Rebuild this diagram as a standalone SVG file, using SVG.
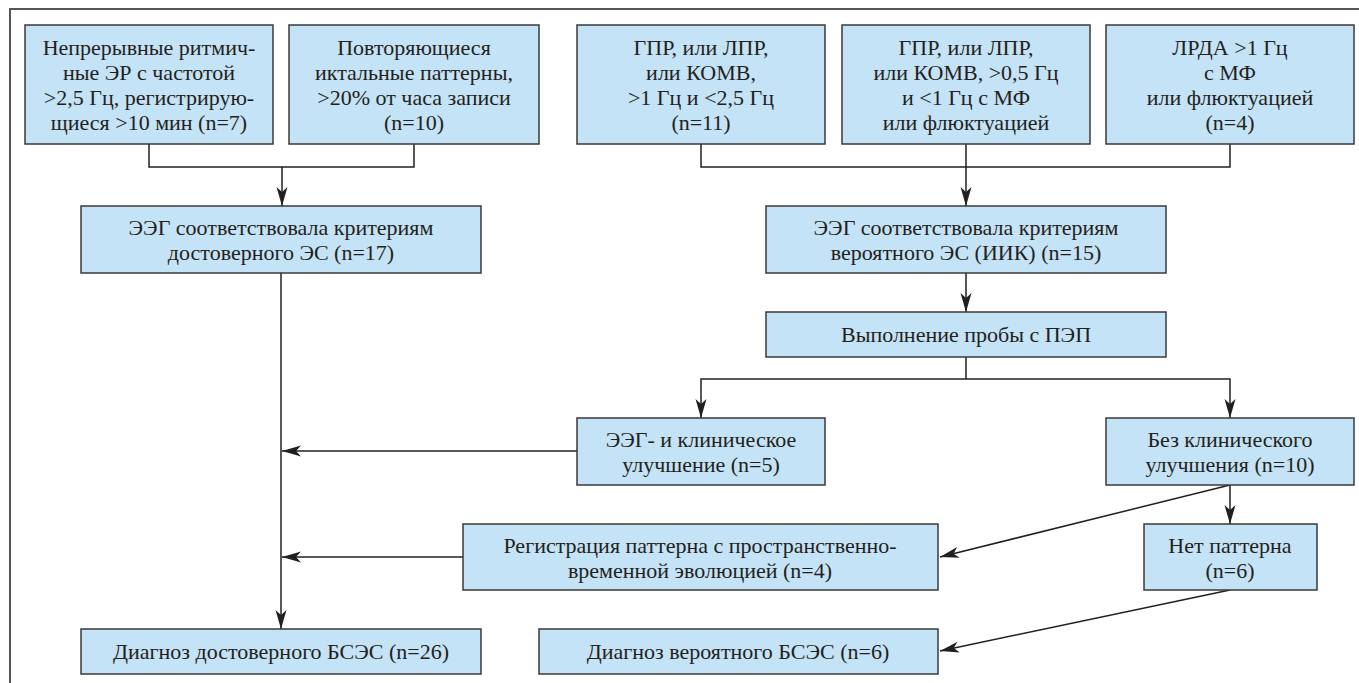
<svg xmlns="http://www.w3.org/2000/svg" width="1359" height="683" viewBox="0 0 1359 683">
<style>
.box{fill:#c5e3f6;stroke:#3a3a3a;stroke-width:1.5}
.c{fill:none;stroke:#231f20;stroke-width:1.5}
</style>
<defs>
<marker id="ah" markerUnits="userSpaceOnUse" markerWidth="20" markerHeight="12" refX="19" refY="6" orient="auto">
<path d="M0,0.5 L19,6 L0,11.5 L5,6 Z" fill="#231f20"/>
</marker>
</defs>
<rect x="10" y="9" width="1370" height="700" fill="none" stroke="#555" stroke-width="2"/>
<g id="connectors">
<path class="c" d="M149,144 V167 H414 V144"/>
<path class="c" d="M282,167 V206" marker-end="url(#ah)"/>
<path class="c" d="M701,144 V167 H1230 V144"/>
<path class="c" d="M966,144 V206" marker-end="url(#ah)"/>
<path class="c" d="M966,273 V312" marker-end="url(#ah)"/>
<path class="c" d="M966,357 V379"/>
<path class="c" d="M966,379 H701 V418" marker-end="url(#ah)"/>
<path class="c" d="M966,379 H1230 V418" marker-end="url(#ah)"/>
<path class="c" d="M281,273 V629" marker-end="url(#ah)"/>
<path class="c" d="M577,451 H282" marker-end="url(#ah)"/>
<path class="c" d="M463,557 H282" marker-end="url(#ah)"/>
<path class="c" d="M1230,485 V524" marker-end="url(#ah)"/>
<path class="c" d="M1230,485 L940,557" marker-end="url(#ah)"/>
<path class="c" d="M1230,590 L940,651" marker-end="url(#ah)"/>
</g>
<g font-family="Liberation Serif, Tinos, Times New Roman, DejaVu Serif, serif" font-size="22" fill="#231f20" text-anchor="middle">
<g id="n1"><rect class="box" x="25" y="25" width="248" height="119"/>
<text x="149" y="55">Непрерывные ритмич-</text>
<text x="149" y="80">ные ЭР с частотой</text>
<text x="149" y="105">&gt;2,5 Гц, регистрирую-</text>
<text x="149" y="130">щиеся &gt;10 мин (n=7)</text></g>
<g id="n2"><rect class="box" x="289" y="25" width="250" height="119"/>
<text x="414" y="55">Повторяющиеся</text>
<text x="414" y="80">иктальные паттерны,</text>
<text x="414" y="105">&gt;20% от часа записи</text>
<text x="414" y="130">(n=10)</text></g>
<g id="n3"><rect class="box" x="577" y="25" width="248" height="119"/>
<text x="701" y="55">ГПР, или ЛПР,</text>
<text x="701" y="80">или КОМВ,</text>
<text x="701" y="105">&gt;1 Гц и &lt;2,5 Гц</text>
<text x="701" y="130">(n=11)</text></g>
<g id="n4"><rect class="box" x="842" y="25" width="248" height="119"/>
<text x="966" y="55">ГПР, или ЛПР,</text>
<text x="966" y="80">или КОМВ, &gt;0,5 Гц</text>
<text x="966" y="105">и &lt;1 Гц с МФ</text>
<text x="966" y="130">или флюктуацией</text></g>
<g id="n5"><rect class="box" x="1106" y="25" width="248" height="119"/>
<text x="1230" y="55">ЛРДА &gt;1 Гц</text>
<text x="1230" y="80">с МФ</text>
<text x="1230" y="105">или флюктуацией</text>
<text x="1230" y="130">(n=4)</text></g>
<g id="n6"><rect class="box" x="81" y="206" width="400" height="67"/>
<text x="281" y="235">ЭЭГ соответствовала критериям</text>
<text x="281" y="260">достоверного ЭС (n=17)</text></g>
<g id="n7"><rect class="box" x="766" y="206" width="400" height="67"/>
<text x="966" y="235">ЭЭГ соответствовала критериям</text>
<text x="966" y="260">вероятного ЭС (ИИК) (n=15)</text></g>
<g id="n8"><rect class="box" x="766" y="312" width="400" height="45"/>
<text x="966" y="342">Выполнение пробы с ПЭП</text></g>
<g id="n9"><rect class="box" x="577" y="418" width="248" height="67"/>
<text x="701" y="447">ЭЭГ- и клиническое</text>
<text x="701" y="472">улучшение (n=5)</text></g>
<g id="n10"><rect class="box" x="1106" y="418" width="248" height="67"/>
<text x="1230" y="447">Без клинического</text>
<text x="1230" y="472">улучшения (n=10)</text></g>
<g id="n11"><rect class="box" x="463" y="524" width="475" height="66"/>
<text x="700" y="553">Регистрация паттерна с пространственно-</text>
<text x="700" y="578">временной эволюцией (n=4)</text></g>
<g id="n12"><rect class="box" x="1144" y="524" width="173" height="66"/>
<text x="1230" y="553">Нет паттерна</text>
<text x="1230" y="578">(n=6)</text></g>
<g id="n13"><rect class="box" x="81" y="629" width="400" height="45"/>
<text x="281" y="659">Диагноз достоверного БСЭС (n=26)</text></g>
<g id="n14"><rect class="box" x="539" y="629" width="399" height="45"/>
<text x="738" y="659">Диагноз вероятного БСЭС (n=6)</text></g>
</g>
</svg>
